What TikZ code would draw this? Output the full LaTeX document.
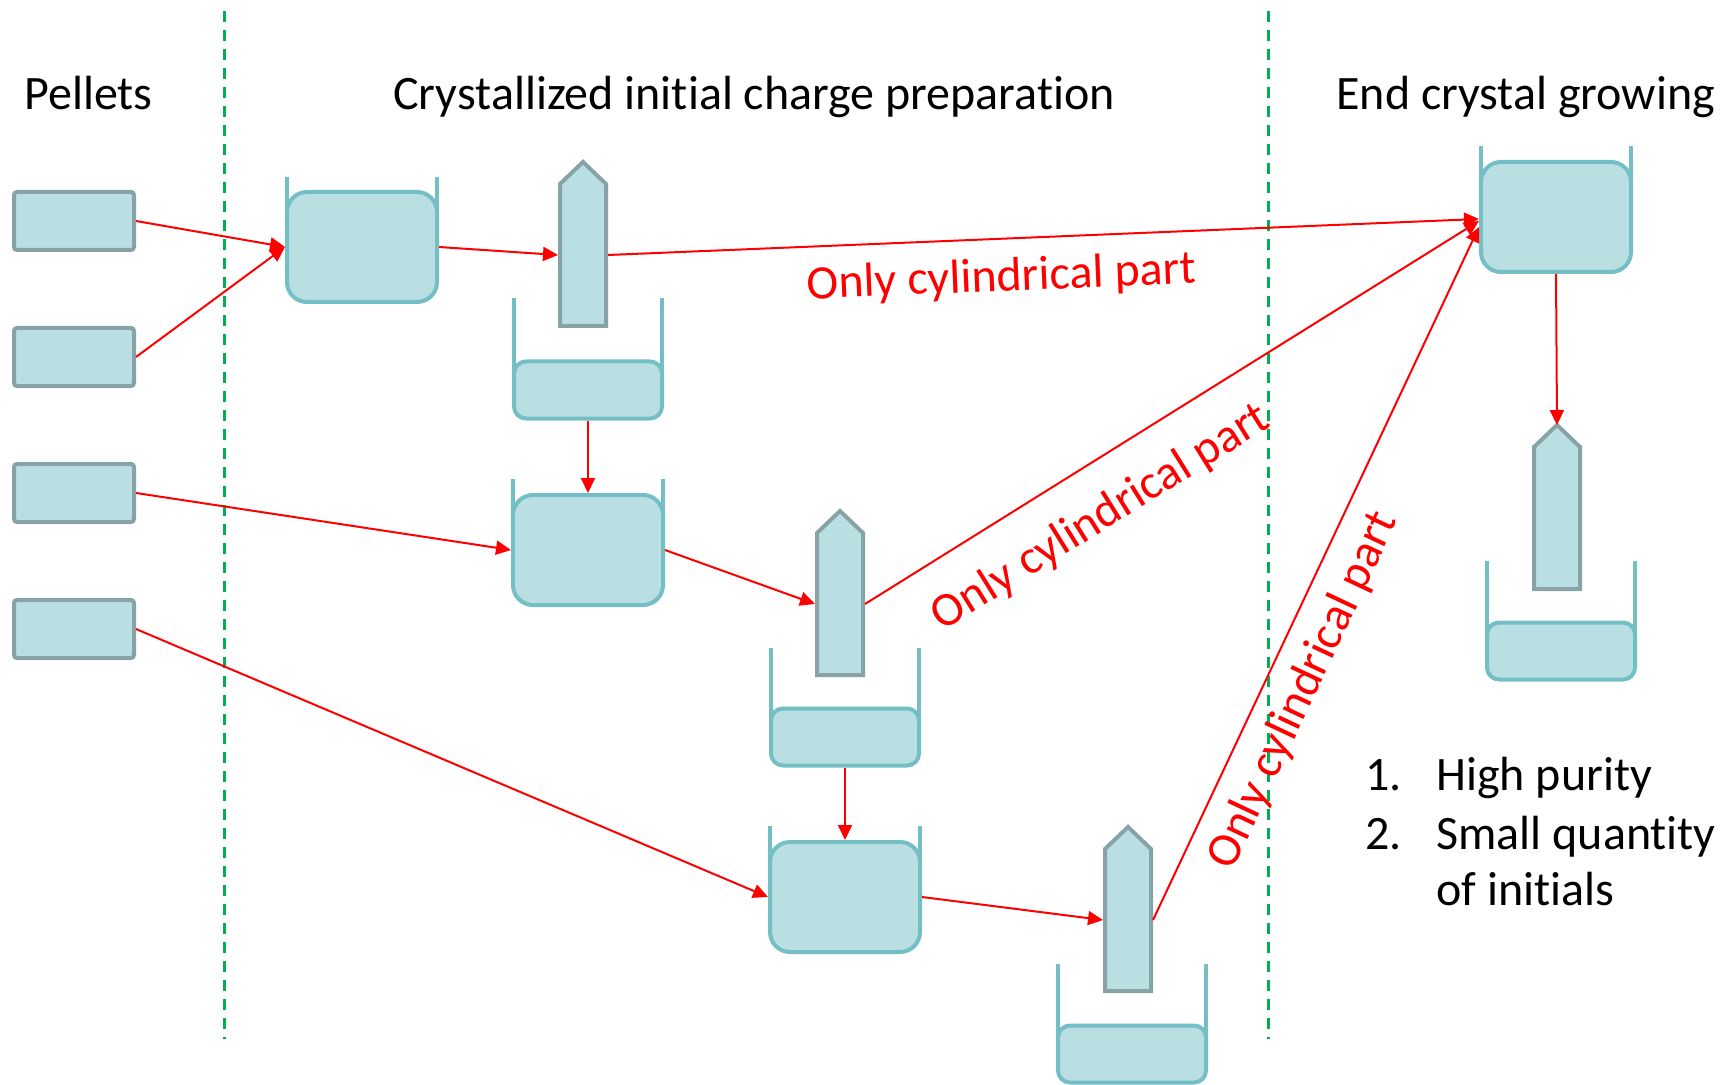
\documentclass[tikz,border=0pt]{standalone}
\usepackage{fontspec}
\setmainfont{Carlito}[RawFeature={-liga}]
\usetikzlibrary{arrows.meta,calc}
\definecolor{fillc}{HTML}{BADFE2}
\definecolor{tealc}{HTML}{74BFC5}
\definecolor{grayc}{HTML}{88A3A6}
\definecolor{greenc}{HTML}{00B050}
\newcommand\drawcrystal[1]{%
  \draw[crysline] ([shift={(1pt,1pt)}]#1.south west) -- ([shift={(1pt,-1pt)}]#1.north west)
    -- ([yshift=10pt]#1.north) -- ([shift={(-1pt,-1pt)}]#1.north east)
    -- ([shift={(-1pt,1pt)}]#1.south east) -- cycle;}
\newcommand\cupwalls[2]{%
  \draw[wall] ([shift={(1pt,#2)}]#1.north west) -- ([xshift=1pt]#1.west);
  \draw[wall] ([shift={(-1pt,#2)}]#1.north east) -- ([xshift=-1pt]#1.east);}
\begin{document}
\begin{tikzpicture}[x=0.5pt,y=-0.5pt,
  pellet/.style={draw=grayc, fill=fillc, line width=2pt, rounded corners=1.5pt, minimum width=60pt, minimum height=29pt, inner sep=0, outer sep=1pt},
  bigcru/.style={draw=tealc, fill=fillc, line width=2pt, rounded corners=10pt, minimum width=75pt, minimum height=55pt, inner sep=0, outer sep=1pt},
  smallcru/.style={draw=tealc, fill=fillc, line width=2pt, rounded corners=6pt, minimum width=74pt, minimum height=28.5pt, inner sep=0, outer sep=1pt},
  crysbody/.style={minimum width=23pt, minimum height=71pt, inner sep=0, outer sep=1pt},
  crysline/.style={draw=grayc, fill=fillc, line width=2pt},
  wall/.style={draw=tealc, line width=2pt},
  arr/.style={draw=red, line width=1pt, -{Triangle[length=7.5pt,width=7pt]}},
  lbl/.style={text=red, font=\fontsize{24}{28}\selectfont, inner sep=0, sloped},
  title/.style={font=\fontsize{24}{28}\selectfont, inner sep=0, anchor=base west},
  divider/.style={draw=greenc, line width=1.5pt, dash pattern=on 5.5pt off 4pt}]
\fill[white] (0,0) rectangle (1733,1085);
\useasboundingbox (0,0) rectangle (1733,1085);
% dividers
\draw[divider] (224,11) -- (224,1039);
\draw[divider] (1268,11) -- (1268,1039);
% titles
\node[title] (tP) at (24,110) {Pellets};
\node[title] (tC) at (393,110) {Crystallized initial charge preparation};
\node[title] (tE) at (1336,110) {End crystal growing};
% list
\node[title] (n1) at (1365,790) {1.};
\node[title] (n1t) at (1436,790) {High purity};
\node[title] (n2) at (1365,849) {2.};
\node[title] (n2t) at (1436,849) {Small quantity};
\node[title] (n3t) at (1436,905) {of initials};
% pellets
\node[pellet] (p1) at (74,221) {};
\node[pellet] (p2) at (74,357) {};
\node[pellet] (p3) at (74,493) {};
\node[pellet] (p4) at (74,629) {};
% crucibles
\node[bigcru] (cA) at (362,247) {};
\node[smallcru] (cB) at (588,390) {};
\node[bigcru] (cC) at (588,550) {};
\node[smallcru] (cD) at (845,737) {};
\node[bigcru] (cE) at (845,897) {};
\node[smallcru] (cF) at (1132,1054) {};
\node[bigcru] (cG) at (1556,217) {};
\node[smallcru] (cH) at (1561,651) {};
\cupwalls{cA}{6.5pt}
\cupwalls{cB}{30.5pt}
\cupwalls{cC}{7pt}
\cupwalls{cD}{29.5pt}
\cupwalls{cE}{7pt}
\cupwalls{cF}{30pt}
\cupwalls{cG}{7pt}
\cupwalls{cH}{30pt}
% crystals
\node[crysbody] (x1) at (583,255) {};
\node[crysbody] (x2) at (840,604) {};
\node[crysbody] (x3) at (1128,920) {};
\node[crysbody] (x4) at (1557,518) {};
\drawcrystal{x1}
\drawcrystal{x2}
\drawcrystal{x3}
\drawcrystal{x4}
\coordinate (x4tip) at ([yshift=10pt]x4.north);
% arrows
\draw[arr] (p1.east) -- (cA.west);
\draw[arr] (p2.east) -- (cA.west);
\draw[arr] (cA.east) -- (x1.west);
\draw[arr] (x1.east) -- ([yshift=-1pt]cG.west) node[lbl, pos=0.45, below=9pt] {Only cylindrical part};
\draw[arr] (cB.south) -- (cC.north);
\draw[arr] (p3.east) -- (cC.west);
\draw[arr] (cC.east) -- (x2.west);
\draw[arr] (x2.east) -- ([yshift=-2pt]cG.west) node[lbl, pos=0.34, below=15pt] {Only cylindrical part};
\draw[arr] (cD.south) -- (cE.north);
\draw[arr] (p4.east) -- (cE.west);
\draw[arr] (cE.east) -- (x3.west);
\draw[arr] (x3.east) -- ([yshift=-5pt]cG.west) node[lbl, pos=0.355, below=8.5pt] {Only cylindrical part};
\draw[arr] (cG.south) -- (x4tip);
\end{tikzpicture}
\end{document}
